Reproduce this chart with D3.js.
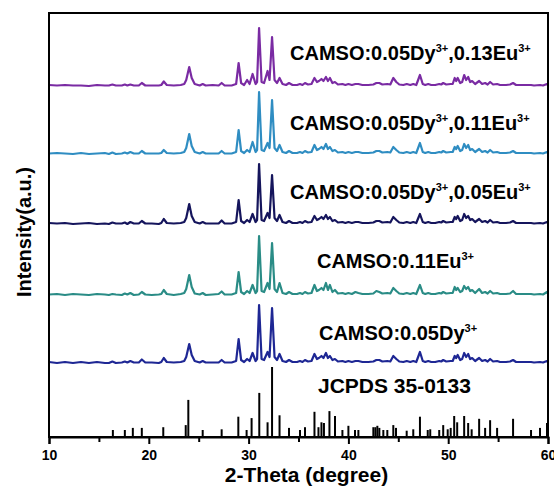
<!DOCTYPE html>
<html>
<head>
<meta charset="utf-8">
<script src="https://cdn.jsdelivr.net/npm/d3@7"></script>
<style>
  html, body { margin: 0; padding: 0; background: #fff; }
  svg { display: block; }
  text { font-family: "Liberation Sans", Arial, Helvetica, sans-serif; font-weight: bold; fill: #000; }
</style>
</head>
<body>
<svg id="chart" width="554" height="486"></svg>
<script>
// 2θ sampling points shared by all measured patterns (degree)
const twoTheta = [
  10.0, 10.8, 11.6, 12.4, 13.2, 14.0, 14.8, 15.6, 16.0, 16.35,
  16.7, 17.3, 17.6, 17.85, 18.15, 18.5, 19.0, 19.3, 19.65, 20.3,
  21.0, 21.25, 21.5, 21.8, 22.5, 23.2, 23.55, 23.75, 24.05, 24.3,
  24.6, 25.1, 25.4, 25.7, 26.4, 27.0, 27.3, 27.6, 28.3, 28.75,
  29.0, 29.25, 29.55, 29.85, 30.1, 30.4, 30.7, 30.85, 31.05, 31.3,
  31.55, 31.9, 32.1, 32.35, 32.6, 32.85, 33.1, 33.4, 33.75, 34.05,
  34.4, 34.85, 35.15, 35.4, 35.65, 35.95, 36.3, 36.6, 36.85, 37.05,
  37.3, 37.5, 37.75, 37.95, 38.15, 38.4, 38.65, 38.95, 39.4, 39.7,
  40.0, 40.35, 40.7, 41.0, 41.4, 42.0, 42.5, 42.8, 43.1, 43.4,
  43.9, 44.2, 44.5, 44.8, 45.1, 45.5, 45.85, 46.2, 46.5, 46.8,
  47.17, 47.45, 47.7, 48.0, 48.3, 48.7, 49.1, 49.3, 49.5, 49.8,
  50.25, 50.45, 50.65, 50.8, 50.95, 51.2, 51.4, 51.6, 51.8, 52.0,
  52.2, 52.4, 52.7, 53.1, 53.4, 53.7, 53.95, 54.2, 54.5, 54.9,
  55.2, 55.8, 56.2, 56.5, 56.8, 57.5, 58.3, 58.6, 59.2, 59.5,
  59.9, 60.0
];

// Intensity (a.u.) of each sample at the 2θ points above
const iDy005 = [
  2, 0, 2, 0, 2, 0, 2, 0, 0, 3,
  0, 1, 3, 1, 4, 1, 1, 7, 1, 1,
  0, 2, 10, 2, 1, 2, 4, 12, 38, 16,
  4, 1, 4, 1, 1, 1, 6, 1, 1, 4,
  48, 6, 2, 8, 4, 20, 4, 8, 116, 8,
  6, 22, 12, 110, 12, 6, 18, 4, 2, 6,
  2, 2, 4, 2, 6, 3, 4, 18, 8, 10,
  14, 10, 20, 10, 14, 6, 8, 3, 4, 2,
  4, 2, 4, 4, 2, 2, 3, 6, 6, 3,
  4, 3, 14, 8, 3, 2, 4, 2, 4, 2,
  22, 4, 2, 4, 2, 2, 4, 3, 6, 3,
  4, 4, 14, 10, 16, 6, 8, 20, 12, 18,
  8, 10, 4, 10, 4, 6, 3, 8, 3, 4,
  2, 2, 3, 6, 2, 2, 2, 1, 2, 1,
  4, 2
];
const iEu011 = [
  1, 2, 0, 2, 1, 0, 2, 1, 0, 2,
  1, 0, 3, 1, 4, 0, 1, 6, 1, 0,
  1, 2, 10, 2, 0, 2, 4, 12, 40, 16,
  3, 1, 4, 0, 1, 2, 7, 1, 1, 4,
  46, 6, 2, 8, 4, 20, 4, 8, 118, 8,
  6, 24, 12, 104, 12, 6, 24, 4, 2, 6,
  2, 2, 4, 2, 6, 3, 4, 20, 8, 10,
  14, 10, 24, 10, 20, 6, 10, 3, 4, 2,
  4, 2, 6, 4, 2, 2, 3, 8, 6, 3,
  4, 3, 14, 8, 3, 2, 4, 2, 4, 2,
  20, 4, 2, 4, 2, 2, 4, 3, 6, 3,
  4, 4, 16, 10, 14, 6, 8, 18, 12, 16,
  8, 10, 4, 12, 4, 6, 3, 8, 3, 4,
  2, 2, 3, 8, 2, 2, 2, 1, 2, 1,
  6, 2
];
const iDy005Eu005 = [
  2, 1, 2, 0, 1, 2, 0, 1, 0, 3,
  1, 1, 3, 0, 4, 1, 1, 6, 1, 1,
  0, 2, 10, 2, 1, 2, 4, 12, 40, 16,
  4, 1, 4, 1, 1, 1, 7, 1, 1, 4,
  48, 6, 2, 8, 4, 20, 4, 8, 120, 8,
  6, 22, 12, 98, 12, 6, 18, 4, 2, 6,
  2, 2, 4, 2, 6, 3, 4, 16, 8, 10,
  14, 10, 18, 10, 14, 6, 8, 3, 4, 2,
  4, 2, 4, 4, 2, 2, 3, 6, 6, 3,
  4, 3, 14, 8, 3, 2, 4, 2, 4, 2,
  20, 4, 2, 4, 2, 2, 4, 3, 6, 3,
  4, 4, 14, 10, 16, 6, 8, 20, 12, 16,
  8, 10, 4, 10, 4, 6, 3, 8, 3, 4,
  2, 2, 3, 6, 2, 2, 2, 1, 2, 1,
  4, 2
];
const iDy005Eu011 = [
  1, 2, 1, 0, 2, 0, 1, 2, 0, 3,
  0, 1, 3, 1, 4, 1, 1, 6, 1, 1,
  1, 2, 8, 2, 1, 2, 4, 12, 40, 16,
  4, 1, 4, 1, 1, 1, 6, 1, 1, 4,
  48, 6, 2, 8, 4, 24, 4, 8, 124, 8,
  6, 22, 12, 108, 12, 6, 18, 4, 2, 6,
  2, 2, 4, 2, 6, 3, 4, 18, 8, 10,
  14, 10, 20, 10, 14, 6, 8, 3, 4, 2,
  4, 2, 4, 4, 2, 2, 3, 6, 6, 3,
  4, 3, 14, 8, 3, 2, 4, 2, 4, 2,
  22, 4, 2, 4, 2, 2, 4, 3, 6, 3,
  4, 4, 14, 10, 16, 6, 8, 20, 12, 18,
  8, 10, 4, 10, 4, 6, 3, 8, 3, 4,
  2, 2, 3, 6, 2, 2, 2, 1, 2, 1,
  4, 1
];
const iDy005Eu013 = [
  2, 1, 2, 1, 1, 0, 2, 1, 1, 3,
  1, 1, 3, 1, 3, 1, 1, 6, 1, 1,
  1, 2, 9, 2, 1, 2, 4, 12, 38, 16,
  4, 1, 4, 1, 2, 1, 6, 1, 1, 4,
  46, 6, 2, 12, 4, 24, 4, 8, 116, 8,
  6, 30, 12, 98, 12, 6, 16, 4, 2, 6,
  2, 2, 4, 2, 6, 3, 4, 16, 8, 10,
  14, 10, 18, 10, 16, 6, 8, 3, 4, 2,
  4, 2, 4, 4, 2, 2, 3, 6, 6, 3,
  4, 3, 16, 8, 3, 2, 4, 2, 4, 2,
  22, 4, 2, 4, 2, 2, 4, 3, 6, 3,
  4, 4, 16, 10, 16, 6, 8, 22, 12, 18,
  8, 10, 4, 10, 4, 6, 3, 8, 3, 4,
  2, 2, 3, 6, 2, 2, 2, 1, 2, 1,
  4, 2
];

// Vertical stacking offsets (a.u.), bottom to top
const stackOffsets = [148, 284, 426, 566, 702];

// Sample labels: pairs of [text, superscript]
const sampleLabels = [
  [["CAMSO:0.05Dy", "3+"]],
  [["CAMSO:0.11Eu", "3+"]],
  [["CAMSO:0.05Dy", "3+"], [",0.05Eu", "3+"]],
  [["CAMSO:0.05Dy", "3+"], [",0.11Eu", "3+"]],
  [["CAMSO:0.05Dy", "3+"], [",0.13Eu", "3+"]]
];
const sampleColors = ["#1e2794", "#2a8c86", "#15155c", "#2f8dc2", "#7a2ba3"];

// Standard card JCPDS 35-0133: peak positions (2θ) and relative intensities (%)
const cardName = "JCPDS 35-0133";
const stickTheta = [
  16.4, 17.6, 18.4, 19.3, 21.45, 23.7, 23.96, 25.4, 27.3, 28.97,
  29.8, 30.3, 31.07, 31.9, 32.35, 33.1, 34.05, 35.15, 35.65, 36.6,
  37.0, 37.3, 37.55, 38.1, 38.66, 39.4, 40.0, 40.66, 41.0, 42.5,
  42.7, 42.9, 43.1, 43.5, 43.9, 44.5, 44.77, 45.84, 46.5, 47.17,
  47.95, 48.2, 49.1, 49.5, 49.95, 50.25, 50.6, 50.9, 51.6, 52.0,
  52.35, 53.1, 53.7, 54.2, 54.9, 56.5, 58.3, 59.2, 59.9
];
const stickIntensity = [
  10, 10, 13, 13, 14, 17, 53, 10, 11, 29,
  10, 27, 63, 21, 100, 31, 13, 10, 14, 36,
  14, 21, 20, 37, 30, 10, 16, 10, 10, 14,
  14, 16, 13, 10, 10, 17, 13, 9, 11, 29,
  10, 11, 10, 17, 11, 13, 30, 21, 30, 20,
  11, 26, 13, 24, 13, 26, 10, 13, 20
];

const xTicks = [10, 20, 30, 40, 50, 60];
const xMinorTicks = [15, 25, 35, 45, 55];
const xTitle = "2-Theta (degree)";
const yTitle = "Intensity(a.u.)";

// ---- layout ----
const svg = d3.select("#chart");
const margin = { left: 49, right: 6, top: 13, bottom: 49 };
const W = 554, H = 486;
const plotW = W - margin.left - margin.right;
const plotH = H - margin.top - margin.bottom;

const x = d3.scaleLinear().domain([10, 60]).range([margin.left, margin.left + plotW]);
const y = d3.scaleLinear().domain([0, 848]).range([margin.top + plotH, margin.top]);
const yStick = d3.scaleLinear().domain([0, 100]).range([margin.top + plotH, margin.top + plotH - 70]);

const series = [iDy005, iEu011, iDy005Eu005, iDy005Eu011, iDy005Eu013].map((vals, k) => ({
  values: vals.map((v, i) => ({ t: twoTheta[i], v: v })),
  offset: stackOffsets[k],
  color: sampleColors[k],
  label: sampleLabels[k]
}));

const g = svg.append("g");

// standard card sticks
g.append("g").selectAll("line").data(stickTheta).join("line")
  .attr("x1", d => x(d)).attr("x2", d => x(d))
  .attr("y1", yStick(0)).attr("y2", (d, i) => yStick(stickIntensity[i]))
  .attr("stroke", "#000").attr("stroke-width", 2);

// measured patterns
const line = d3.line().x(d => x(d.t));
series.forEach(s => {
  g.append("path")
    .datum(s.values)
    .attr("fill", "none")
    .attr("stroke", s.color)
    .attr("stroke-width", 2.2)
    .attr("stroke-linejoin", "round")
    .attr("d", line.y(d => y(d.v + s.offset)));
});

// sample labels with superscript charges
const labelPos = [
  { t: 37.05, dy: -23 },
  { t: 36.85, dy: -27 },
  { t: 34.15, dy: -25 },
  { t: 34.15, dy: -24 },
  { t: 34.15, dy: -26 }
];
const supRise = 8;
series.forEach((s, k) => {
  const txt = g.append("text")
    .attr("x", x(labelPos[k].t))
    .attr("y", y(s.offset) + labelPos[k].dy)
    .attr("font-size", 20);
  s.label.forEach(([base, sup], j) => {
    txt.append("tspan").attr("dy", j === 0 ? 0 : supRise).text(base);
    txt.append("tspan").attr("font-size", 11).attr("dy", -supRise).text(sup);
  });
});
g.append("text")
  .attr("x", x(36.95)).attr("y", y(0) - 44)
  .attr("font-size", 21)
  .text(cardName);

// frame
svg.append("rect")
  .attr("x", margin.left).attr("y", margin.top)
  .attr("width", plotW).attr("height", plotH)
  .attr("fill", "none").attr("stroke", "#000").attr("stroke-width", 2);

// bottom axis
const axisMajor = svg.append("g")
  .attr("transform", `translate(0,${margin.top + plotH})`)
  .call(d3.axisBottom(x).tickValues(xTicks).tickSize(7).tickPadding(6).tickFormat(d3.format("d")));
axisMajor.select(".domain").attr("stroke-width", 2);
axisMajor.selectAll(".tick line").attr("stroke-width", 2);
axisMajor.selectAll(".tick text")
  .attr("font-size", 14)
  .style("font-family", "'Liberation Sans', Arial, sans-serif")
  .style("font-weight", "bold");

const axisMinor = svg.append("g")
  .attr("transform", `translate(0,${margin.top + plotH})`)
  .call(d3.axisBottom(x).tickValues(xMinorTicks).tickSize(5).tickFormat(""));
axisMinor.select(".domain").remove();
axisMinor.selectAll(".tick line").attr("stroke-width", 2);

// axis titles
svg.append("text")
  .attr("x", (x(10) + x(60)) / 2 + 8).attr("y", 482)
  .attr("text-anchor", "middle").attr("font-size", 21)
  .text(xTitle);
svg.append("text")
  .attr("transform", `translate(31,${(y(0) + y(848)) / 2 + 7}) rotate(-90)`)
  .attr("text-anchor", "middle").attr("font-size", 20)
  .text(yTitle);
</script>
</body>
</html>
